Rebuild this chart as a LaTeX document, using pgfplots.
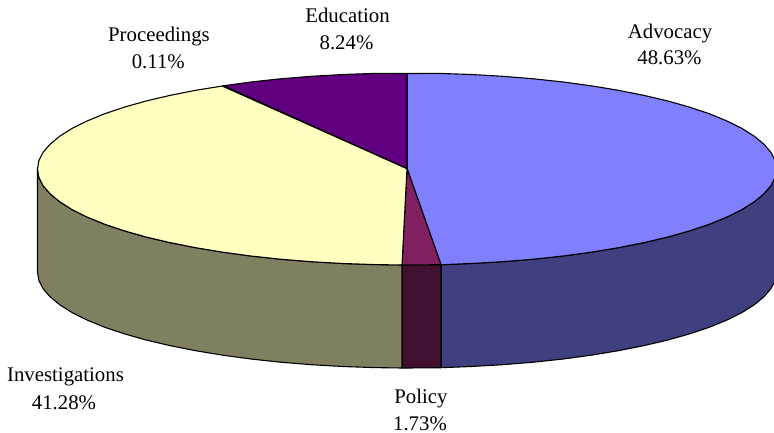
\documentclass[border=0pt]{standalone}
\usepackage{pgfplots}
\pgfplotsset{compat=1.18}
\usepackage{fontspec}
\setmainfont{Liberation Serif}
\definecolor{advtop}{HTML}{8080FF}
\definecolor{advside}{HTML}{404080}
\definecolor{poltop}{HTML}{802060}
\definecolor{polside}{HTML}{401030}
\definecolor{invtop}{HTML}{FFFFC0}
\definecolor{invside}{HTML}{808060}
\definecolor{protop}{HTML}{A0E0E0}
\definecolor{edutop}{HTML}{600080}
\tikzset{lbl/.style={anchor=base, font=\fontsize{20.8}{24}\selectfont, text=black, inner sep=0pt}}
\begin{document}
\begin{tikzpicture}
\useasboundingbox (0,0) rectangle (774pt,433pt);
\begin{axis}[
  at={(0,0)}, anchor=south west,
  width=774pt, height=433pt, scale only axis,
  xmin=0, xmax=774, ymin=0, ymax=433, y dir=reverse,
  hide axis,
  every axis plot/.append style={draw=black, line width=1.1pt, line join=round, mark=none},
]
% Rim of the disc, Advocacy
\addplot[fill=advside] coordinates {
 (776.5,169) (775.1,177.4) (770.9,185.7) (763.9,193.8) (754.2,201.8) (741.9,209.6)
 (727,217) (709.7,224.1) (690.1,230.7) (668.3,236.9) (644.5,242.5) (618.9,247.6)
 (591.75,252.1) (563.2,256) (533.4,259.2) (502.6,261.7) (471.2,263.5) (441,264.7)
 (441,367.7) (471.2,366.5) (502.6,364.7) (533.4,362.2) (563.2,359) (591.75,355.1)
 (618.9,350.6) (644.5,345.5) (668.3,339.9) (690.1,333.7) (709.7,327.1) (727,320)
 (741.9,312.6) (754.2,304.8) (763.9,296.8) (770.9,288.7) (775.1,280.4) (776.5,272)
} -- cycle;
% Rim of the disc, Policy
\addplot[fill=polside] coordinates {
 (441,264.7) (407,265) (402,265) (402,368) (407,368) (441,367.7)
} -- cycle;
% Rim of the disc, Investigations
\addplot[fill=invside] coordinates {
 (402,265) (374.8,264.6) (342.8,263.5) (311.4,261.7) (280.6,259.2) (250.8,256)
 (222.25,252.1) (195.1,247.6) (169.5,242.5) (145.7,236.9) (123.9,230.7) (104.3,224.1)
 (87,217) (72.1,209.6) (59.8,201.8) (50.1,193.8) (43.1,185.7) (38.9,177.4) (37.5,169)
 (37.5,272) (38.9,280.4) (43.1,288.7) (50.1,296.8) (59.8,304.8) (72.1,312.6) (87,320)
 (104.3,327.1) (123.9,333.7) (145.7,339.9) (169.5,345.5) (195.1,350.6) (222.25,355.1)
 (250.8,359) (280.6,362.2) (311.4,364.7) (342.8,366.5) (374.8,367.6) (402,368)
} -- cycle;
% Top face, Advocacy 48.63%
\addplot[fill=advtop] coordinates {
 (407,168.5) (407,73.5) (439.2,73.4) (471.2,74.5) (502.6,76.3) (533.4,78.8) (563.2,82)
 (591.75,85.9) (618.9,90.4) (644.5,95.5) (668.3,101.1) (690.1,107.3) (709.7,113.9)
 (727,121) (741.9,128.4) (754.2,136.2) (763.9,144.2) (770.9,152.3) (775.1,160.6)
 (776.5,169) (775.1,177.4) (770.9,185.7) (763.9,193.8) (754.2,201.8) (741.9,209.6)
 (727,217) (709.7,224.1) (690.1,230.7) (668.3,236.9) (644.5,242.5) (618.9,247.6)
 (591.75,252.1) (563.2,256) (533.4,259.2) (502.6,261.7) (471.2,263.5) (441,264.7)
} -- cycle;
% Top face, Policy 1.73%
\addplot[fill=poltop] coordinates {
 (407,168.5) (441,264.7) (407,265) (402,265)
} -- cycle;
% Top face, Investigations 41.28%
\addplot[fill=invtop] coordinates {
 (407,168.5) (402,265) (374.8,264.6) (342.8,263.5) (311.4,261.7) (280.6,259.2)
 (250.8,256) (222.25,252.1) (195.1,247.6) (169.5,242.5) (145.7,236.9) (123.9,230.7)
 (104.3,224.1) (87,217) (72.1,209.6) (59.8,201.8) (50.1,193.8) (43.1,185.7) (38.9,177.4)
 (37.5,169) (38.9,160.6) (43.1,152.3) (50.1,144.2) (59.8,136.2) (72.1,128.4) (87,121)
 (104.3,113.9) (123.9,107.3) (145.7,101.1) (169.5,95.5) (195.1,90.4) (222.5,86)
} -- cycle;
% Top face, Proceedings 0.11%
\addplot[fill=protop] coordinates {
 (407,168.5) (222.5,86) (223.5,85.8)
} -- cycle;
% Top face, Education 8.24%
\addplot[fill=edutop] coordinates {
 (407,168.5) (223.5,85.8) (250.8,82) (280.6,78.8) (311.4,76.3) (342.8,74.5) (374.8,73.4) (407,73.5)
} -- cycle;
% Slice labels
\node[lbl] at (axis cs:670,39) {Advocacy};
\node[lbl] at (axis cs:669.5,65) {48.63\%};
\node[lbl] at (axis cs:347.5,22.5) {Education};
\node[lbl] at (axis cs:346.5,50) {8.24\%};
\node[lbl] at (axis cs:159,42) {Proceedings};
\node[lbl] at (axis cs:158.3,69) {0.11\%};
\node[lbl] at (axis cs:65.5,381) {Investigations};
\node[lbl] at (axis cs:64,409) {41.28\%};
\node[lbl] at (axis cs:421,403) {Policy};
\node[lbl] at (axis cs:420,430) {1.73\%};
\end{axis}
\end{tikzpicture}
\end{document}
